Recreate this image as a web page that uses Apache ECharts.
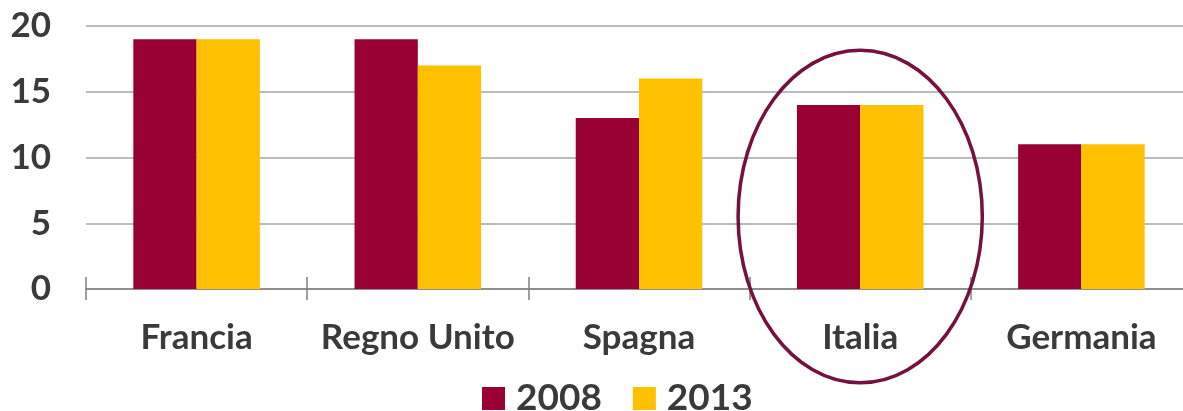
<!DOCTYPE html>
<html>
<head>
<meta charset="utf-8">
<script src="https://cdn.jsdelivr.net/npm/echarts@6/dist/echarts.min.js"></script>
<style>
  html, body { margin: 0; padding: 0; background: #fff; overflow: hidden; }
  #chart { width: 1200px; height: 411px; }
</style>
</head>
<body>
<div id="chart"></div>
<script>
// Countries and values for the two years
const countries = ['Francia', 'Regno Unito', 'Spagna', 'Italia', 'Germania'];
const values2008 = [19, 19, 13, 14, 11];
const values2013 = [19, 17, 16, 14, 11];
const yearLabels = ['2008', '2013'];
const yTicks = { min: 0, max: 20, interval: 5 };
const highlighted = 'Italia';

const FONT = 'Lato';
const TEXT = '#3a3a3a';

const chart = echarts.init(document.getElementById('chart'), null, { renderer: 'canvas' });

const option = {
  animation: false,
  backgroundColor: '#ffffff',
  textStyle: { fontFamily: FONT },
  grid: { left: 86, width: 1106, top: 26, bottom: 122, containLabel: false },
  legend: {
    data: yearLabels,
    left: 482,
    top: 380,
    itemWidth: 23,
    itemHeight: 23,
    itemGap: 31,
    icon: 'rect',
    textStyle: { fontFamily: FONT, fontWeight: 'bold', fontSize: 37, color: TEXT, padding: [0, 0, 0, 6] },
    padding: 0
  },
  xAxis: [
    {
      type: 'category',
      data: countries,
      position: 'bottom',
      axisLine: { show: true, lineStyle: { color: '#808080', width: 1.5 } },
      axisTick: { show: true, length: 11, lineStyle: { color: '#808080', width: 1.5 } },
      axisLabel: { interval: 0, fontFamily: FONT, fontWeight: 'bold', fontSize: 35, color: TEXT, margin: 31 },
      splitLine: { show: false }
    },
    {
      // second axis only draws the upper half of the crossing tick marks
      type: 'category',
      data: countries,
      position: 'bottom',
      axisLine: { show: false },
      axisTick: { show: true, inside: true, length: 12, lineStyle: { color: '#808080', width: 1.5 } },
      axisLabel: { show: false },
      splitLine: { show: false }
    }
  ],
  yAxis: {
    type: 'value',
    min: yTicks.min,
    max: yTicks.max,
    interval: yTicks.interval,
    axisLine: { show: false },
    axisTick: { show: false },
    axisLabel: { fontFamily: FONT, fontWeight: 'bold', fontSize: 35, color: TEXT, margin: 35 },
    splitLine: { show: true, lineStyle: { color: '#a6a6a6', width: 1.5 } }
  },
  series: [
    {
      name: yearLabels[0],
      type: 'bar',
      data: values2008,
      itemStyle: { color: '#990033' },
      barGap: '0%',
      barCategoryGap: '42.8%'
    },
    {
      name: yearLabels[1],
      type: 'bar',
      data: values2013,
      itemStyle: { color: '#ffc000' }
    }
  ]
};

chart.setOption(option);

// Ellipse around the highlighted country, sized from the axis scales
function drawHighlight() {
  const idx = countries.indexOf(highlighted);
  const left = chart.convertToPixel({ xAxisIndex: 0 }, idx);
  const next = chart.convertToPixel({ xAxisIndex: 0 }, idx + 1);
  const catW = next - left;
  const yTop = chart.convertToPixel({ yAxisIndex: 0 }, 18.15);
  const yZero = chart.convertToPixel({ yAxisIndex: 0 }, 0);
  const bottom = yZero + (yZero - yTop) * 0.393;
  chart.setOption({
    graphic: [{
      type: 'ellipse',
      shape: { cx: left, cy: (yTop + bottom) / 2, rx: catW * 0.552, ry: (bottom - yTop) / 2 },
      style: { fill: 'none', stroke: '#76103f', lineWidth: 3.5 },
      z: 100
    }]
  });
}
drawHighlight();
</script>
</body>
</html>
